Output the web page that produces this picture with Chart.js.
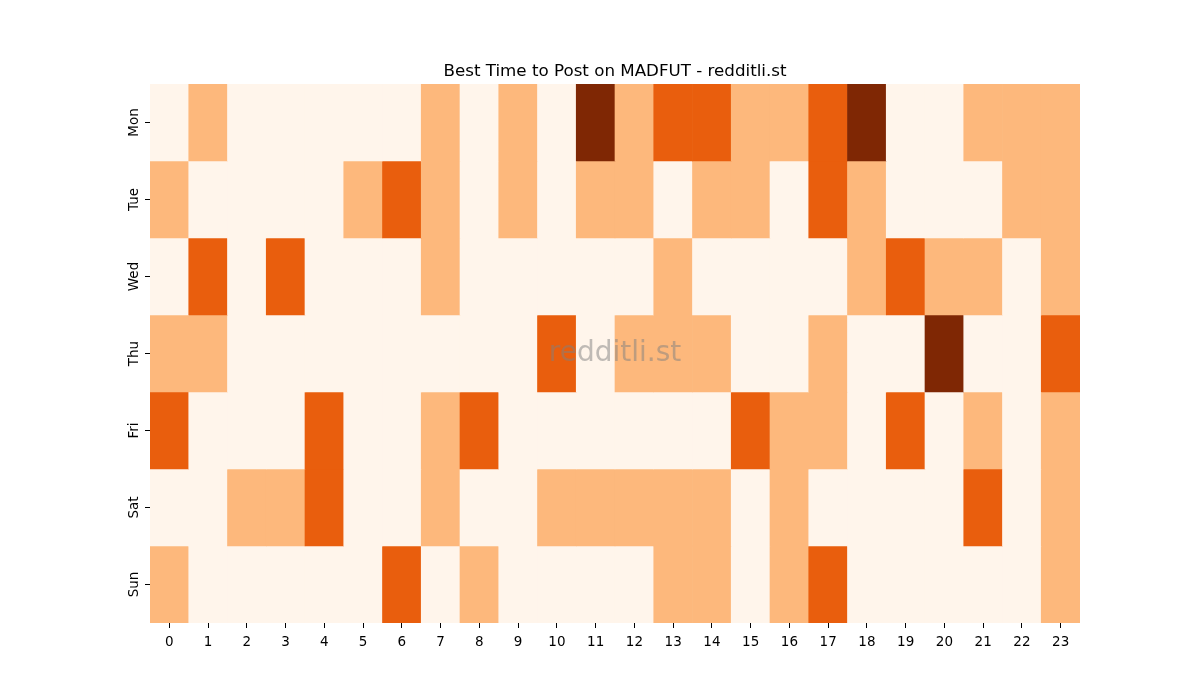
<!DOCTYPE html>
<html>
<head>
<meta charset="utf-8">
<script src="https://cdn.jsdelivr.net/npm/chart.js@4"></script>
<style>
html,body{margin:0;padding:0;background:#fff;}
#wrap{width:1200px;height:700px;}
</style>
</head>
<body>
<div id="wrap"><canvas id="c" width="1200" height="700"></canvas></div>
<script>
const hours = ['0','1','2','3','4','5','6','7','8','9','10','11','12','13','14','15','16','17','18','19','20','21','22','23'];
const days = ['Mon','Tue','Wed','Thu','Fri','Sat','Sun'];
// activity level per hour (0 = lowest, 3 = highest)
const mon = [0,1,0,0,0,0,0,1,0,1,0,3,1,2,2,1,1,2,3,0,0,1,1,1];
const tue = [1,0,0,0,0,1,2,1,0,1,0,1,1,0,1,1,0,2,1,0,0,0,1,1];
const wed = [0,2,0,2,0,0,0,1,0,0,0,0,0,1,0,0,0,0,1,2,1,1,0,1];
const thu = [1,1,0,0,0,0,0,0,0,0,2,0,1,1,1,0,0,1,0,0,3,0,0,2];
const fri = [2,0,0,0,2,0,0,1,2,0,0,0,0,0,0,2,1,1,0,2,0,1,0,1];
const sat = [0,0,1,1,2,0,0,1,0,0,1,1,1,1,1,0,1,0,0,0,0,2,0,1];
const sun = [1,0,0,0,0,0,2,0,1,0,0,0,0,1,1,0,1,2,0,0,0,0,0,1];
const levels = [mon,tue,wed,thu,fri,sat,sun];
const palette = ['#fff5eb','#fdb87c','#e95e0d','#7f2704'];

const datasets = levels.map((row,i)=>({
  label: days[i],
  data: row.map(()=>1),
  backgroundColor: row.map(v=>palette[v]),
  borderWidth: 0,
  barPercentage: 1.0,
  categoryPercentage: 1.0,
  stack: 's'
}));

const FONT = "'DejaVu Sans', sans-serif";

const overlay = {
  id:'overlay',
  afterDraw(chart){
    const ctx = chart.ctx, a = chart.chartArea;
    const ys = chart.scales.y;
    ctx.save();
    // y tick labels, rotated
    ctx.fillStyle = '#000';
    ctx.font = "13.5px " + FONT;
    ctx.textAlign = 'center';
    ctx.textBaseline = 'alphabetic';
    days.forEach((d,i)=>{
      const y = ys.getPixelForValue(i+0.5);
      ctx.save();
      ctx.translate(138, y);
      ctx.rotate(-Math.PI/2);
      ctx.fillText(d, 0, 0);
      ctx.restore();
    });
    // title
    ctx.font = "16.7px " + FONT;
    ctx.fillText('Best Time to Post on MADFUT - redditli.st', (a.left+a.right)/2, 76);
    // watermark
    ctx.fillStyle = 'rgba(128,128,128,0.5)';
    ctx.font = "28px " + FONT;
    ctx.textBaseline = 'middle';
    ctx.fillText('redditli.st', (a.left+a.right)/2, (a.top+a.bottom)/2);
    ctx.restore();
  }
};

new Chart(document.getElementById('c'), {
  type:'bar',
  data:{labels:hours, datasets},
  options:{
    responsive:false,
    animation:false,
    layout:{padding:{left:0,right:120,top:84,bottom:0}},
    plugins:{legend:{display:false},tooltip:{enabled:false},title:{display:false}},
    scales:{
      x:{
        type:'category',
        stacked:true,
        offset:true,
        border:{display:false},
        grid:{offset:false,drawOnChartArea:false,drawTicks:true,tickLength:5,color:'#000',tickWidth:1},
        ticks:{color:'#000',font:{family:FONT,size:13.5},padding:6,maxRotation:0,minRotation:0,autoSkip:false},
        afterFit(s){s.height=77;}
      },
      y:{
        type:'linear',
        stacked:true,
        min:0,max:7,
        reverse:true,
        border:{display:false},
        grid:{drawOnChartArea:false,drawTicks:true,tickLength:5,color:'#000',tickWidth:1},
        afterBuildTicks(s){ s.ticks = days.map((d,i)=>({value:i+0.5})); },
        ticks:{display:false},
        afterFit(s){s.width=150;}
      }
    }
  },
  plugins:[overlay]
});
</script>
</body>
</html>
